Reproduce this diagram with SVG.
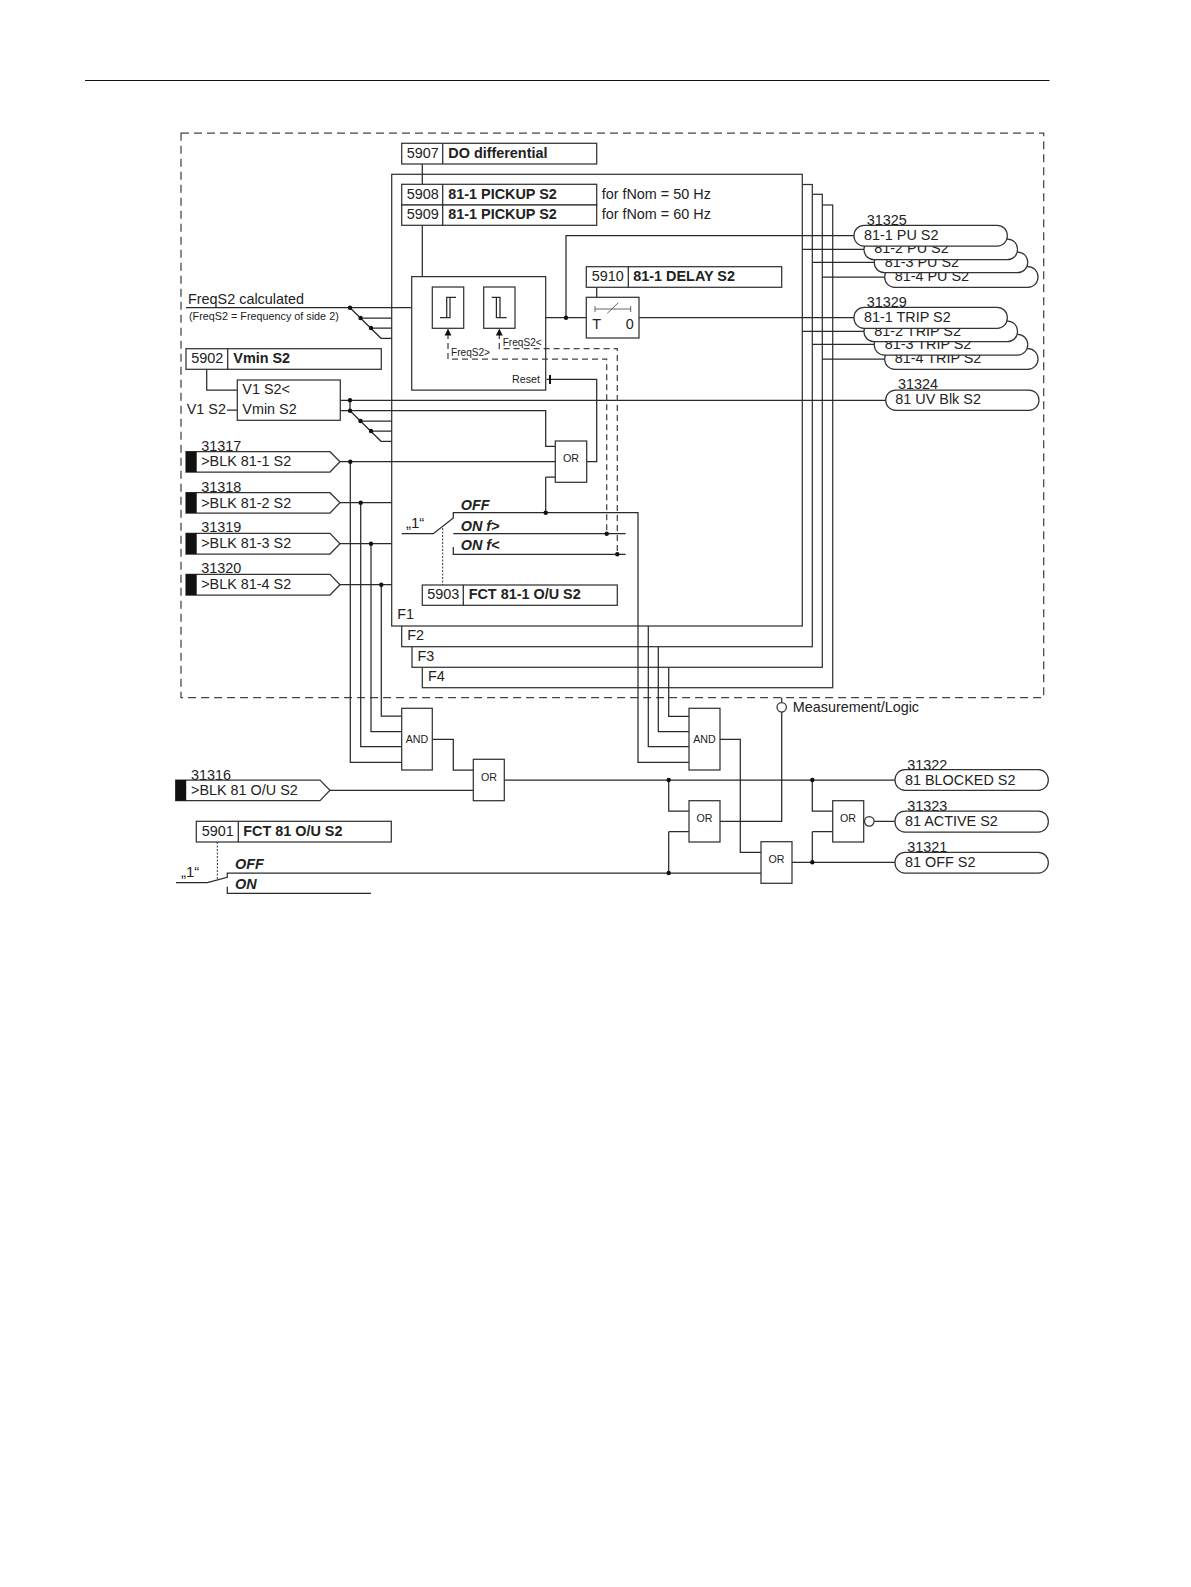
<svg xmlns="http://www.w3.org/2000/svg" width="1191" height="1587" viewBox="0 0 1191 1587">
<style>
text{font-family:"Liberation Sans",Arial,sans-serif;font-size:14.4px;fill:#222}
.b{font-weight:bold}
.bi{font-weight:bold;font-style:italic}
.s{font-size:10.7px}
.m{text-anchor:middle}
.box,.pill,.tag{fill:#fff;stroke:#333;stroke-width:1.25}
.ln{fill:none;stroke:#2a2a2a;stroke-width:1.25}
.dash{fill:none;stroke:#444;stroke-width:1.25;stroke-dasharray:6 4}
.dot{fill:none;stroke:#333;stroke-width:1;stroke-dasharray:2 1.5}
.frame{fill:none;stroke:#444;stroke-width:1.25;stroke-dasharray:8 5}
.j{fill:#111}
.blk{fill:#111}
.c{fill:#fff;stroke:#333;stroke-width:1.25}
</style>
<line x1="85" y1="80.5" x2="1049.5" y2="80.5" stroke="#111" stroke-width="1"/>
<rect class="frame" x="181" y="133" width="862.7" height="564.7"/>

<g id="stack">
<rect class="box" x="422.3" y="205" width="410.4" height="482.7"/>
<rect class="box" x="412" y="194.3" width="410.3" height="473"/>
<rect class="box" x="401.7" y="184.5" width="410.6" height="462.2"/>
<rect class="box" x="391.7" y="174.3" width="410.6" height="451.7"/>
<text x="397.3" y="619.3">F1</text>
<text x="407.3" y="640">F2</text>
<text x="417.5" y="660.7">F3</text>
<text x="428" y="681">F4</text>
</g>

<g id="connectors">
<path class="ln" d="M422.3 164V184.3M422.3 225.3V276.7"/>
<path class="ln" d="M186 307.7H411.7M350 307.7L381 338.3H391.7M360.5 318H391.7M371 328H391.7"/>
<path class="ln" d="M206.7 369.3V390H237.3M227 410H237.3"/>
<path class="ln" d="M340.3 400.3H885.7M350 400.3V410.7M340.3 410.7H545.7V446.3H555.3M350 410.7L381 441.3H391.7M360.5 421H391.7M371 431H391.7"/>
<path class="ln" d="M340 461.7H555.3M350.3 461.7V762.3H401.7M340 502.7H391.7M360.7 502.7V746.7H401.7M340 543.7H391.7M371 543.7V731.7H401.7M340 584.7H391.7M381.3 584.7V716H401.7"/>
<path class="ln" d="M586.7 461.7H596.7V379.3H546.7M545.7 477H555.3M545.7 477V512.7"/>
<path class="ln" d="M545.7 317.7H586.3M566 317.7V235.7H854M639 317.7H854M596.7 287.3V297.3"/>
<path class="ln" d="M802.3 249.3H864M812.3 262.3H874.3M822.3 277H884.7M802.3 331.3H864M812.3 344.3H874.3M822.3 359H884.7"/>
<path class="ln" d="M401.7 533.7H433.3L453.3 518V512.7H638V762.3H689M453.3 533.7H625.7M453.3 547V554.3H625.7"/>
<path class="ln" d="M648.3 626V746.7H689M658.3 646.7V731.7H689M668.7 667.3V716.3H689"/>
<path class="dot" d="M442.7 528V585M217.3 842V880"/>
<path class="dash" d="M448 333V359H606.7V533.7M499.3 333V348.7H617.3V554.3"/>
<polygon class="j" points="448,328.5 444.6,335.5 451.4,335.5"/>
<polygon class="j" points="499.3,328.5 495.9,335.5 502.7,335.5"/>
<path class="ln" d="M432.3 739.3H453.3V770H473.3M330 790.3H473.3M504.3 780H895M668.7 780V811H689M668.7 831.7V873M668.7 831.7H689M720 821.3H781.7V712M781.7 702.6V697.7"/>
<path class="ln" d="M720 739.3H740.3V852.3H761M812.3 780V811H832.7M812.3 831.7H832.7V831.7M812.3 831.7V862.3M792 862.3H895M874.1 821.3H895"/>
<path class="ln" d="M176 882.7H207.3L227.3 877.3V873H761M227.3 886.7V893.3H371"/>
<g class="j">
<circle cx="350" cy="307.7" r="2.2"/><circle cx="360.5" cy="318" r="2.2"/><circle cx="371" cy="328" r="2.2"/>
<circle cx="350" cy="400.3" r="2.2"/><circle cx="350" cy="410.7" r="2.2"/><circle cx="360.5" cy="421" r="2.2"/><circle cx="371" cy="431" r="2.2"/>
<circle cx="350.3" cy="461.7" r="2.2"/><circle cx="360.7" cy="502.7" r="2.2"/><circle cx="371" cy="543.7" r="2.2"/><circle cx="381.3" cy="584.7" r="2.2"/>
<circle cx="566" cy="317.7" r="2.2"/><circle cx="545.7" cy="512.7" r="2.2"/><circle cx="606.7" cy="533.7" r="2.2"/><circle cx="617.3" cy="554.3" r="2.2"/>
<circle cx="668.7" cy="780" r="2.2"/><circle cx="668.7" cy="873" r="2.2"/><circle cx="812.3" cy="780" r="2.2"/><circle cx="812.3" cy="862.3" r="2.2"/>
</g>
</g>

<g id="n5907"><rect class="box" x="401.7" y="143.3" width="195" height="20.7"/><path class="ln" d="M442.7 143.3V164"/><text x="406.7" y="157.7">5907</text><text class="b" x="448.3" y="157.7">DO differential</text></g>
<g id="n5908"><rect class="box" x="401.7" y="184.3" width="195" height="20.7"/><path class="ln" d="M442.7 184.3V205"/><text x="406.7" y="199">5908</text><text class="b" x="448.3" y="199">81-1 PICKUP S2</text><text x="601.7" y="199">for fNom = 50 Hz</text></g>
<g id="n5909"><rect class="box" x="401.7" y="205" width="195" height="20.3"/><path class="ln" d="M442.7 205V225.3"/><text x="406.7" y="219.3">5909</text><text class="b" x="448.3" y="219.3">81-1 PICKUP S2</text><text x="601.7" y="219.3">for fNom = 60 Hz</text></g>
<g id="n5910"><rect class="box" x="586.3" y="266.7" width="195.4" height="20.6"/><path class="ln" d="M628.3 266.7V287.3"/><text x="591.7" y="281">5910</text><text class="b" x="633.3" y="281">81-1 DELAY S2</text></g>
<g id="timer"><rect class="box" x="586.3" y="297.3" width="52.7" height="40.7"/><path fill="none" stroke="#555" stroke-width="0.9" d="M595 306V312M630.7 306V312M595 309H630.7M607.3 313.3L618.3 302.7"/><text x="592.3" y="329">T</text><text x="625.7" y="329">0</text></g>

<g id="freq-input"><text x="188" y="304.3">FreqS2 calculated</text><text x="189" y="320" style="font-size:10.8px">(FreqS2 = Frequency of side 2)</text></g>
<g id="threshold">
<path class="box" style="fill:none" d="M411.7 276.7H545.7V390H411.7Z"/>
<rect class="box" x="432.3" y="287" width="31.4" height="41.3"/>
<path class="ln" d="M440 317.7H450V297.3H446.7V317.7M446.7 297.3H456"/>
<rect class="box" x="483.7" y="287" width="31.3" height="41.3"/>
<path class="ln" d="M491.7 297.3H500V317.7H496.4V297.3M496.4 317.7H506.7"/>
<text class="s" x="451" y="356" style="font-size:10.1px">FreqS2&gt;</text>
<text class="s" x="502.7" y="346" style="font-size:10.1px">FreqS2&lt;</text>
<text class="s" x="512" y="383.3">Reset</text>
<path d="M550 375V384" stroke="#111" stroke-width="2" fill="none"/>
</g>
<g id="n5902"><rect class="box" x="186" y="348.7" width="195.3" height="20.6"/><path class="ln" d="M227.7 348.7V369.3"/><text x="191.3" y="363.3">5902</text><text class="b" x="233.3" y="363.3">Vmin S2</text></g>
<g id="vmin"><rect class="box" x="237.3" y="380" width="103" height="40.3"/><text x="242.3" y="394">V1 S2&lt;</text><text x="242.3" y="414.3">Vmin S2</text><text x="186.7" y="414.3">V1 S2</text></g>

<g id="in31317"><path class="tag" d="M186 451.7H330L340 461.7L330 472H186Z"/><rect class="blk" x="186" y="451.7" width="10.7" height="20.3"/><text x="201.2" y="450.7">31317</text><text x="201.2" y="466">&gt;BLK 81-1 S2</text></g>
<g id="in31318"><path class="tag" d="M186 492.7H330L340 502.7L330 513H186Z"/><rect class="blk" x="186" y="492.7" width="10.7" height="20.3"/><text x="201.2" y="492">31318</text><text x="201.2" y="507.7">&gt;BLK 81-2 S2</text></g>
<g id="in31319"><path class="tag" d="M186 533.3H330L340 543.7L330 554H186Z"/><rect class="blk" x="186" y="533.3" width="10.7" height="20.7"/><text x="201.2" y="532.3">31319</text><text x="201.2" y="548.3">&gt;BLK 81-3 S2</text></g>
<g id="in31320"><path class="tag" d="M186 574.3H330L340 584.7L330 595H186Z"/><rect class="blk" x="186" y="574.3" width="10.7" height="20.7"/><text x="201.2" y="573.3">31320</text><text x="201.2" y="588.7">&gt;BLK 81-4 S2</text></g>

<g id="or-reset"><rect class="box" x="555.3" y="441" width="31.4" height="41.3"/><text class="s m" x="571" y="462">OR</text></g>
<g id="switch-f1"><text x="406" y="527.5" style="font-size:15px">„1“</text><text class="bi" x="460.7" y="510">OFF</text><text class="bi" x="460.7" y="530.7">ON f&gt;</text><text class="bi" x="460.7" y="550">ON f&lt;</text></g>
<g id="n5903"><rect class="box" x="422.3" y="585" width="195" height="20.3"/><path class="ln" d="M463.3 585V605.3"/><text x="427.3" y="599.3">5903</text><text class="b" x="468.7" y="599.3">FCT 81-1 O/U S2</text></g>

<g id="pu4"><rect class="pill" x="884.7" y="266.7" width="153.3" height="20.6" rx="10"/><text x="894.7" y="281">81-4 PU S2</text></g>
<g id="pu3"><rect class="pill" x="874.3" y="252" width="153.4" height="20.7" rx="10"/><text x="884.7" y="266.7">81-3 PU S2</text></g>
<g id="pu2"><rect class="pill" x="864" y="239" width="153.5" height="20.7" rx="10"/><text x="874.3" y="253.3">81-2 PU S2</text></g>
<g id="pu1"><rect class="pill" x="854" y="225.3" width="153.3" height="20.7" rx="10"/><text x="864" y="240">81-1 PU S2</text><text x="866.7" y="225">31325</text></g>
<g id="trip4"><rect class="pill" x="884.7" y="348.7" width="153.3" height="20.6" rx="10"/><text x="894.7" y="363">81-4 TRIP S2</text></g>
<g id="trip3"><rect class="pill" x="874.3" y="334.3" width="153.4" height="20.7" rx="10"/><text x="884.7" y="349">81-3 TRIP S2</text></g>
<g id="trip2"><rect class="pill" x="864" y="321" width="153.5" height="20.7" rx="10"/><text x="874.3" y="335.7">81-2 TRIP S2</text></g>
<g id="trip1"><rect class="pill" x="854" y="307.3" width="153.3" height="21" rx="10"/><text x="864" y="322.3">81-1 TRIP S2</text><text x="866.7" y="307">31329</text></g>
<g id="uv"><rect class="pill" x="885.7" y="390" width="153.3" height="20.3" rx="10"/><text x="895.3" y="404.3">81 UV Blk S2</text><text x="898" y="389.3">31324</text></g>

<g id="and1"><rect class="box" x="401.7" y="708.3" width="30.6" height="61.7"/><text class="s m" x="417" y="743.3">AND</text></g>
<g id="and2"><rect class="box" x="689" y="708.3" width="31" height="61.7"/><text class="s m" x="704.5" y="743.3">AND</text></g>
<g id="or1"><rect class="box" x="473.3" y="759.3" width="31" height="41.4"/><text class="s m" x="489" y="781">OR</text></g>
<g id="or2"><rect class="box" x="689" y="800.7" width="31" height="41.3"/><text class="s m" x="704.5" y="821.7">OR</text></g>
<g id="or3"><rect class="box" x="761" y="841.7" width="31" height="41.6"/><text class="s m" x="776.5" y="863.3">OR</text></g>
<g id="or4"><rect class="box" x="832.7" y="800.7" width="31" height="41.3"/><text class="s m" x="848" y="821.7">OR</text><circle class="c" cx="869.3" cy="821.3" r="4.8"/></g>
<g id="meas"><circle class="c" cx="781.7" cy="707.3" r="4.7"/><text x="792.7" y="711.7">Measurement/Logic</text></g>

<g id="in31316"><path class="tag" d="M175.7 780H320L330 790.3L320 800.7H175.7Z"/><rect class="blk" x="175.7" y="780" width="10.5" height="20.7"/><text x="191" y="779.6">31316</text><text x="191" y="795">&gt;BLK 81 O/U S2</text></g>
<g id="n5901"><rect class="box" x="196.3" y="821.3" width="195" height="20.7"/><path class="ln" d="M238.3 821.3V842"/><text x="201.7" y="836">5901</text><text class="b" x="243.3" y="836">FCT 81 O/U S2</text></g>
<g id="switch-main"><text x="181" y="877" style="font-size:15px">„1“</text><text class="bi" x="235" y="869.3">OFF</text><text class="bi" x="235" y="889.3">ON</text></g>
<g id="out31322"><rect class="pill" x="895" y="769.7" width="153.3" height="20.6" rx="10"/><text x="905" y="784.7">81 BLOCKED S2</text><text x="907.2" y="769.6">31322</text></g>
<g id="out31323"><rect class="pill" x="895" y="811" width="153.3" height="21" rx="10"/><text x="905" y="826">81 ACTIVE S2</text><text x="907.2" y="810.8">31323</text></g>
<g id="out31321"><rect class="pill" x="895" y="852.3" width="153.3" height="20.7" rx="10"/><text x="905" y="867">81 OFF S2</text><text x="907.2" y="851.8">31321</text></g>
</svg>
